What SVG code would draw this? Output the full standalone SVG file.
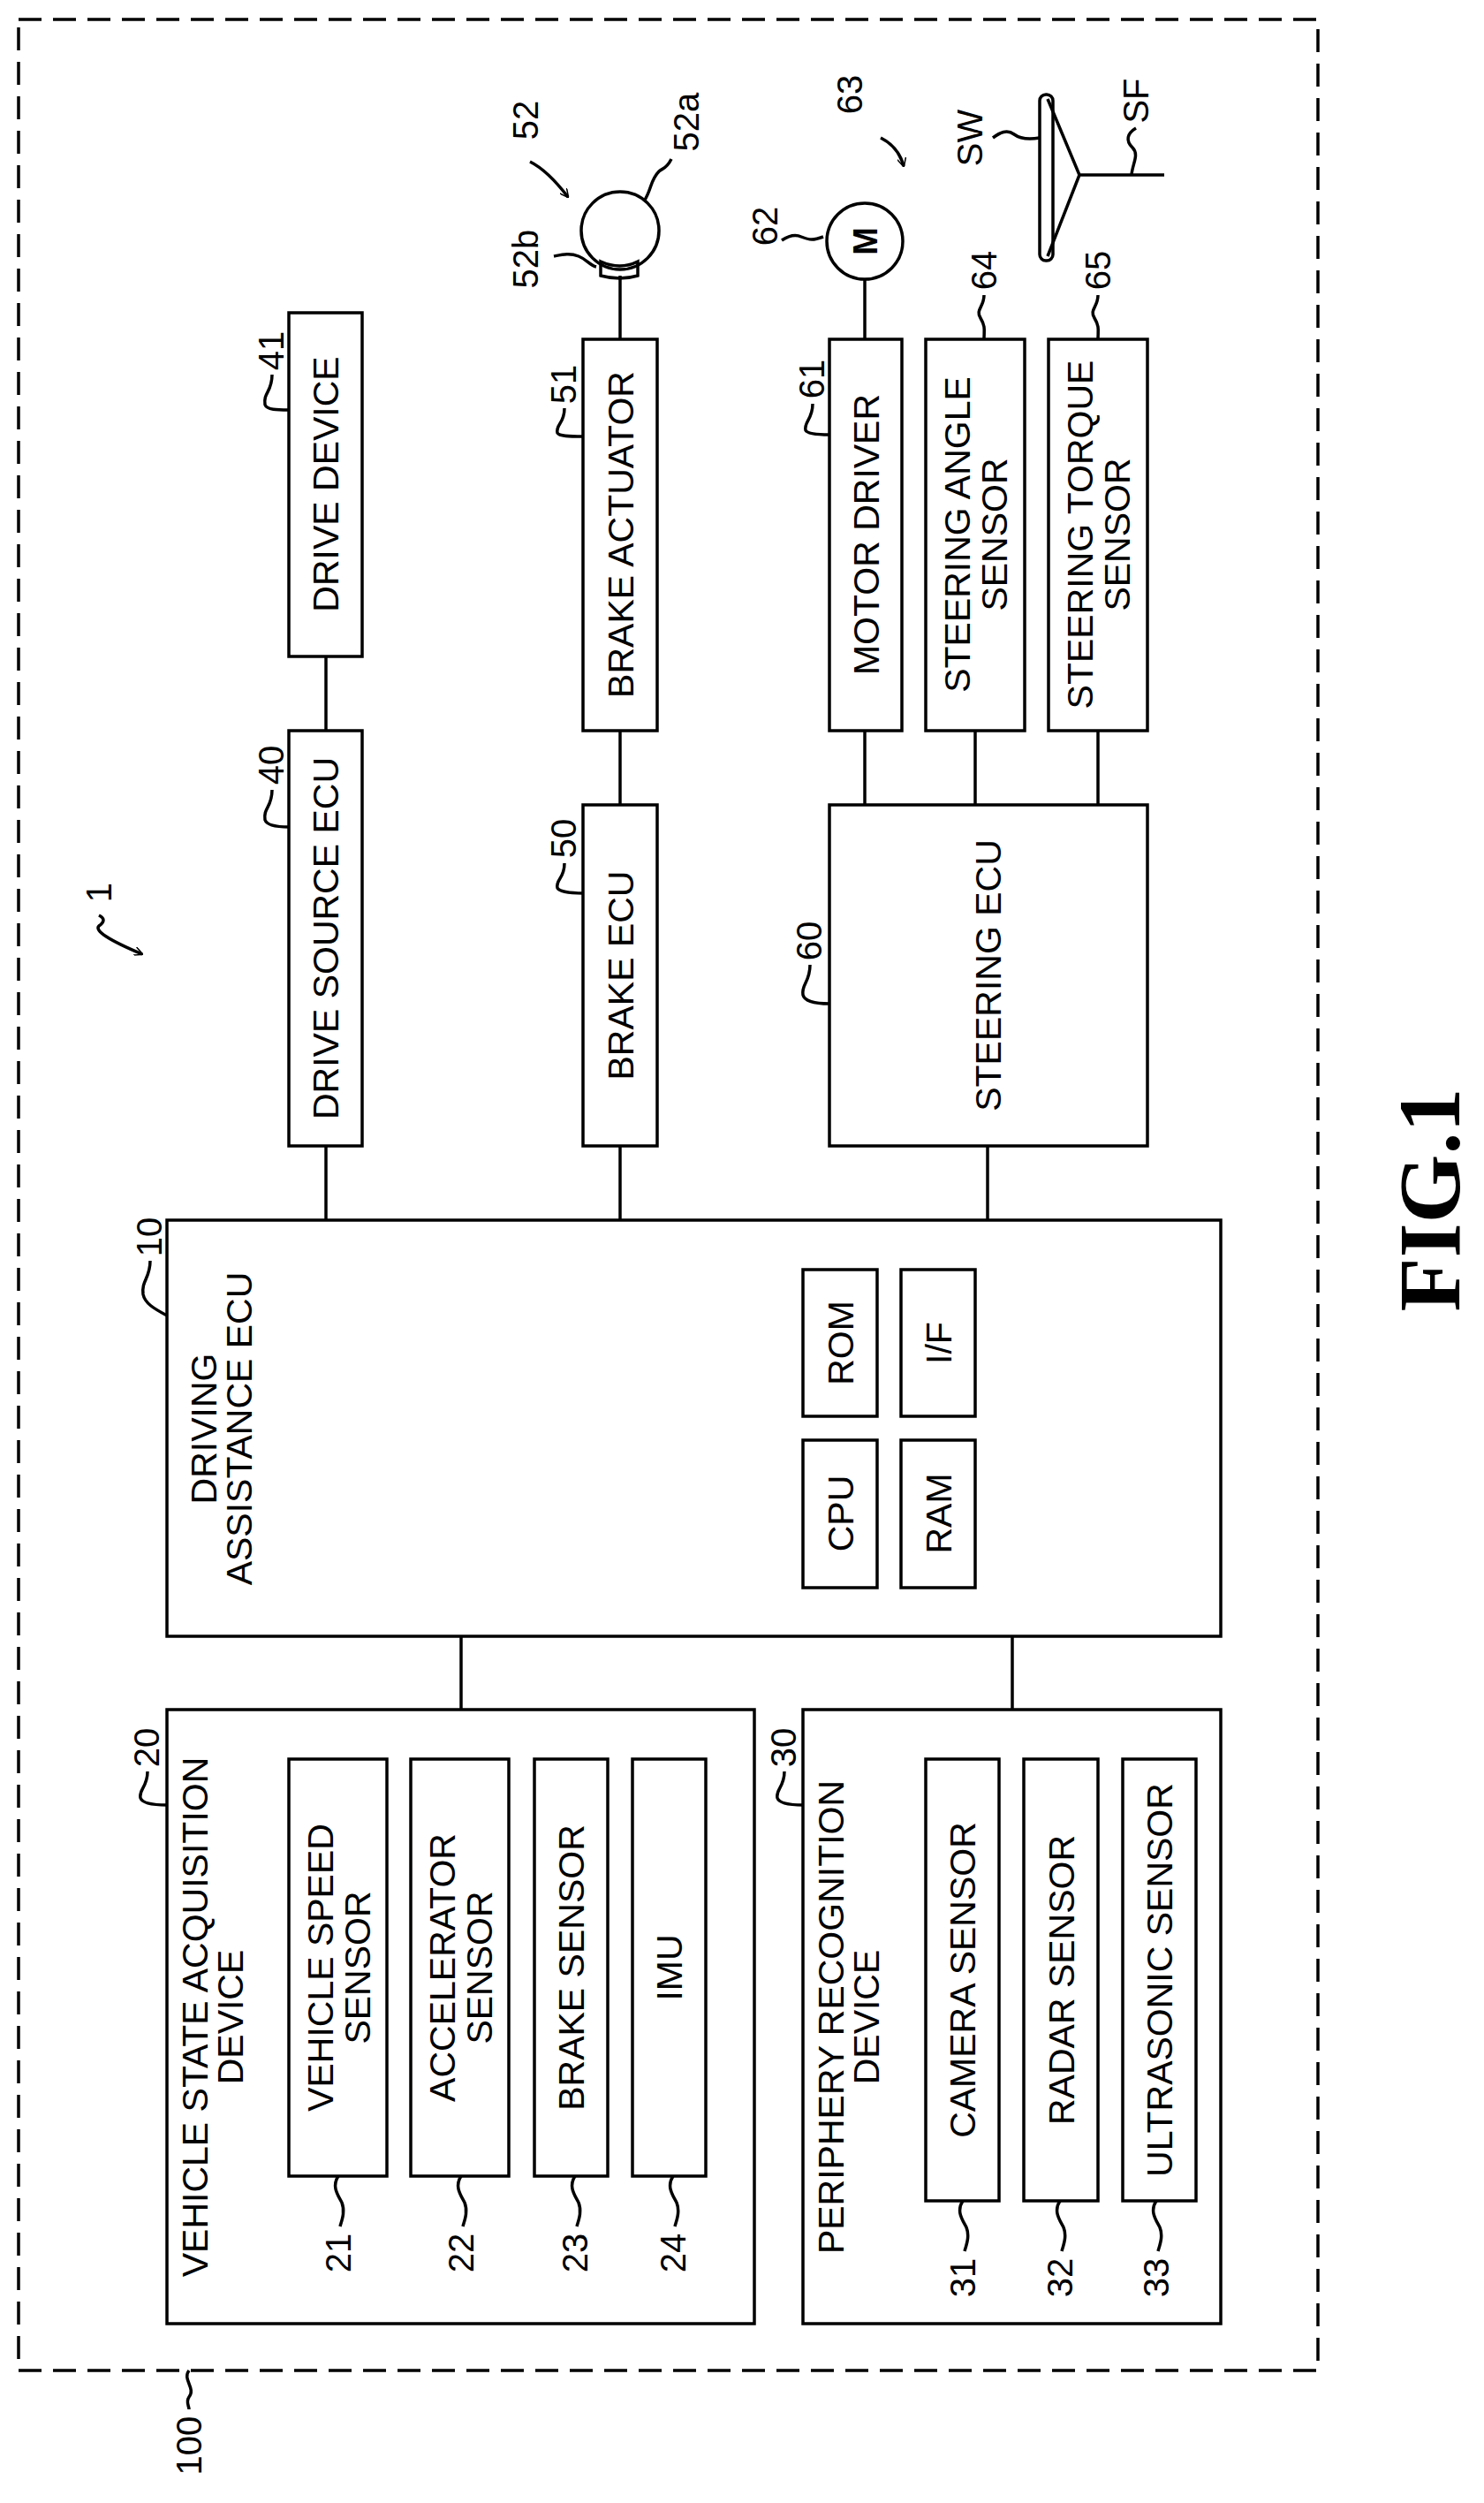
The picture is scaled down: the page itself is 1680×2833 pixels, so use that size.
<svg xmlns="http://www.w3.org/2000/svg" width="1680" height="2833" viewBox="0 0 1680 2833">
<style>
rect,circle,path,line{fill:none;stroke:#000;stroke-width:3.5}
text{font-family:"Liberation Sans",Arial,sans-serif;font-size:41px;fill:#000;text-anchor:middle}
.n{font-size:40px}
.fig{font-family:"Liberation Serif","Times New Roman",serif;font-size:100px;font-weight:bold}
</style>
<defs><marker id="ah" viewBox="0 0 10 10" refX="9" refY="5" markerWidth="10" markerHeight="10" markerUnits="userSpaceOnUse" orient="auto"><path d="M0,0 L10,5 L0,10" style="stroke-width:1.5"/></marker></defs>
<rect x="21" y="22" width="1471" height="2661" stroke-dasharray="26,13"/>
<g id="connectors">
<line x1="369" y1="743" x2="369" y2="827"/>
<line x1="369" y1="1297" x2="369" y2="1381"/>
<line x1="702" y1="312" x2="702" y2="384"/>
<line x1="702" y1="827" x2="702" y2="911"/>
<line x1="702" y1="1297" x2="702" y2="1381"/>
<line x1="979" y1="316" x2="979" y2="384"/>
<line x1="979" y1="827" x2="979" y2="911"/>
<line x1="1104" y1="827" x2="1104" y2="911"/>
<line x1="1243" y1="827" x2="1243" y2="911"/>
<line x1="1118" y1="1297" x2="1118" y2="1381"/>
<line x1="522" y1="1852" x2="522" y2="1935"/>
<line x1="1146" y1="1852" x2="1146" y2="1935"/>
</g>
<g id="n100"><path d="M214 2683 c-8 10 8 20 0 30 c-4 6 0 10 0 14"/><text class="n" transform="rotate(-90 228 2768)" x="228" y="2768">100</text></g>
<g id="n1"><text class="n" transform="rotate(-90 126 1010)" x="126" y="1010">1</text><path d="M112 1036 q10 5 0 12 q-8 8 49 32" marker-end="url(#ah)"/></g>
<g id="n41"><rect x="327" y="354" width="83" height="389"/><text transform="rotate(-90 383 548)" x="383" y="548">DRIVE DEVICE</text><text class="n" transform="rotate(-90 321 397)" x="321" y="397">41</text><path d="M308 424 c0 20 -10 20 -8 34 c2 6 14 6 27 6"/></g>
<g id="n40"><rect x="327" y="827" width="83" height="470"/><text transform="rotate(-90 383 1062)" x="383" y="1062">DRIVE SOURCE ECU</text><text class="n" transform="rotate(-90 321 866)" x="321" y="866">40</text><path d="M308 894 c0 20 -10 20 -8 34 c2 6 14 8 27 8"/></g>
<g id="n51"><rect x="660" y="384" width="84" height="443"/><text transform="rotate(-90 717 605)" x="717" y="605">BRAKE ACTUATOR</text><text class="n" transform="rotate(-90 652 435)" x="652" y="435">51</text><path d="M639 462 c0 18 -10 18 -8 28 c2 4 14 4 29 4"/></g>
<g id="n50"><rect x="660" y="911" width="84" height="386"/><text transform="rotate(-90 717 1104)" x="717" y="1104">BRAKE ECU</text><text class="n" transform="rotate(-90 652 949)" x="652" y="949">50</text><path d="M639 977 c0 18 -10 18 -8 28 c2 4 14 6 29 6"/></g>
<g id="n52"><circle cx="702" cy="261" r="44"/><path d="M680 296 q22 10 42 0 l0 16 q-20 6 -42 0 z"/><text class="n" transform="rotate(-90 609 136)" x="609" y="136">52</text><path d="M600 183 q20 10 43 40" marker-end="url(#ah)"/><text class="n" transform="rotate(-90 791 138)" x="791" y="138">52a</text><path d="M760 180 c-6 12 -10 10 -14 14 c-10 10 -8 20 -17 34"/><text class="n" transform="rotate(-90 609 293)" x="609" y="293">52b</text><path d="M627 290 c10 -2 18 -4 28 0 c10 4 12 10 20 12"/></g>
<g id="n61"><rect x="939" y="384" width="82" height="443"/><text transform="rotate(-90 995 605)" x="995" y="605">MOTOR DRIVER</text><text class="n" transform="rotate(-90 933 429)" x="933" y="429">61</text><path d="M920 457 c0 18 -10 20 -8 30 c2 4 14 5 27 5"/></g>
<g id="n62"><circle cx="979" cy="273" r="43"/><text x="979" y="273" transform="rotate(-90 979 273)" dy="14" style="font-weight:bold;font-size:38px">M</text><text class="n" transform="rotate(-90 880 256)" x="880" y="256">62</text><path d="M885 272 c6 -4 14 -8 22 -4 c10 4 14 4 25 0"/></g>
<g id="n63"><text class="n" transform="rotate(-90 976 107)" x="976" y="107">63</text><path d="M997 156 q20 10 26 32" marker-end="url(#ah)"/></g>
<g id="n64"><rect x="1048" y="384" width="112" height="443"/><text transform="rotate(-90 1098 605)" x="1098" y="605">STEERING ANGLE</text><text transform="rotate(-90 1140 605)" x="1140" y="605">SENSOR</text><text class="n" transform="rotate(-90 1128 306)" x="1128" y="306">64</text><path d="M1114 334 c0 14 -10 16 -4 26 c6 10 4 14 4 24"/></g>
<g id="n65"><rect x="1187" y="384" width="112" height="443"/><text class="n" transform="rotate(-90 1257 306)" x="1257" y="306">65</text><text transform="rotate(-90 1237 605)" x="1237" y="605">STEERING TORQUE</text><text transform="rotate(-90 1279 605)" x="1279" y="605">SENSOR</text><path d="M1243 334 c0 14 -10 16 -4 26 c6 10 4 14 4 24"/></g>
<g id="n60"><rect x="939" y="911" width="360" height="386"/><text transform="rotate(-90 1133 1104)" x="1133" y="1104">STEERING ECU</text><text class="n" transform="rotate(-90 930 1065)" x="930" y="1065">60</text><path d="M917 1092 c0 20 -10 22 -8 34 c2 8 14 10 30 10"/></g>
<g id="sw"><rect x="1177" y="107" width="15" height="188" rx="7"/><path d="M1186 112 L1222 198 L1186 290 M1222 198 L1318 198"/><text class="n" transform="rotate(-90 1112 156)" x="1112" y="156">SW</text><path d="M1124 156 c8 -6 16 -10 24 -4 c8 6 18 6 29 4"/><text class="n" transform="rotate(-90 1300 114)" x="1300" y="114">SF</text><path d="M1286 145 c-10 6 -12 14 -4 22 c8 8 0 18 -1 31"/></g>
<g id="n10"><rect x="189" y="1381" width="1193" height="471"/><text transform="rotate(-90 245 1617)" x="245" y="1617">DRIVING</text><text transform="rotate(-90 285 1617)" x="285" y="1617">ASSISTANCE ECU</text><text class="n" transform="rotate(-90 183 1400)" x="183" y="1400">10</text><path d="M170 1427 c0 20 -10 22 -8 38 c2 10 12 16 27 24"/>
<rect x="909" y="1437" width="84" height="166"/><text transform="rotate(-90 966 1520)" x="966" y="1520">ROM</text>
<rect x="909" y="1630" width="84" height="167"/><text transform="rotate(-90 966 1713)" x="966" y="1713">CPU</text>
<rect x="1020" y="1437" width="84" height="166"/><text transform="rotate(-90 1077 1520)" x="1077" y="1520">I/F</text>
<rect x="1020" y="1630" width="84" height="167"/><text transform="rotate(-90 1077 1713)" x="1077" y="1713">RAM</text></g>
<g id="n20"><rect x="189" y="1935" width="665" height="695"/><text transform="rotate(-90 235 2283)" x="235" y="2283">VEHICLE STATE ACQUISITION</text><text transform="rotate(-90 275 2283)" x="275" y="2283">DEVICE</text><text class="n" transform="rotate(-90 180 1978)" x="180" y="1978">20</text><path d="M167 2005 c0 18 -10 20 -8 30 c2 6 14 8 30 8"/></g>
<g id="n21"><rect x="327" y="1991" width="111" height="472"/><text transform="rotate(-90 377 2227)" x="377" y="2227">VEHICLE SPEED</text><text transform="rotate(-90 419 2227)" x="419" y="2227">SENSOR</text><path d="M383 2463 c-8 12 0 22 4 30 c4 10 0 20 -2 27"/><text class="n" transform="rotate(-90 397 2550)" x="397" y="2550">21</text></g>
<g id="n22"><rect x="465" y="1991" width="111" height="472"/><text transform="rotate(-90 515 2227)" x="515" y="2227">ACCELERATOR</text><text transform="rotate(-90 557 2227)" x="557" y="2227">SENSOR</text><path d="M522 2463 c-8 12 0 22 4 30 c4 10 0 20 -2 27"/><text class="n" transform="rotate(-90 536 2550)" x="536" y="2550">22</text></g>
<g id="n23"><rect x="605" y="1991" width="83" height="472"/><text transform="rotate(-90 661 2227)" x="661" y="2227">BRAKE SENSOR</text><path d="M651 2463 c-8 12 0 22 4 30 c4 10 0 20 -2 27"/><text class="n" transform="rotate(-90 665 2550)" x="665" y="2550">23</text></g>
<g id="n24"><rect x="716" y="1991" width="83" height="472"/><text transform="rotate(-90 772 2227)" x="772" y="2227">IMU</text><path d="M762 2463 c-8 12 0 22 4 30 c4 10 0 20 -2 27"/><text class="n" transform="rotate(-90 776 2550)" x="776" y="2550">24</text></g>
<g id="n30"><rect x="909" y="1935" width="473" height="695"/><text transform="rotate(-90 955 2283)" x="955" y="2283">PERIPHERY RECOGNITION</text><text transform="rotate(-90 995 2283)" x="995" y="2283">DEVICE</text><text class="n" transform="rotate(-90 901 1978)" x="901" y="1978">30</text><path d="M888 2005 c0 18 -10 20 -8 30 c2 6 14 8 29 8"/></g>
<g id="n31"><rect x="1048" y="1991" width="83" height="500"/><text transform="rotate(-90 1104 2241)" x="1104" y="2241">CAMERA SENSOR</text><path d="M1090 2491 c-8 12 0 22 4 30 c4 10 0 20 -2 27"/><text class="n" transform="rotate(-90 1104 2578)" x="1104" y="2578">31</text></g>
<g id="n32"><rect x="1159" y="1991" width="84" height="500"/><text transform="rotate(-90 1216 2241)" x="1216" y="2241">RADAR SENSOR</text><path d="M1200 2491 c-8 12 0 22 4 30 c4 10 0 20 -2 27"/><text class="n" transform="rotate(-90 1214 2578)" x="1214" y="2578">32</text></g>
<g id="n33"><rect x="1271" y="1991" width="83" height="500"/><text transform="rotate(-90 1327 2241)" x="1327" y="2241">ULTRASONIC SENSOR</text><path d="M1309 2491 c-8 12 0 22 4 30 c4 10 0 20 -2 27"/><text class="n" transform="rotate(-90 1323 2578)" x="1323" y="2578">33</text></g>
<text class="fig" transform="rotate(-90 1652 1358)" x="1652" y="1358">FIG.1</text>
</svg>
